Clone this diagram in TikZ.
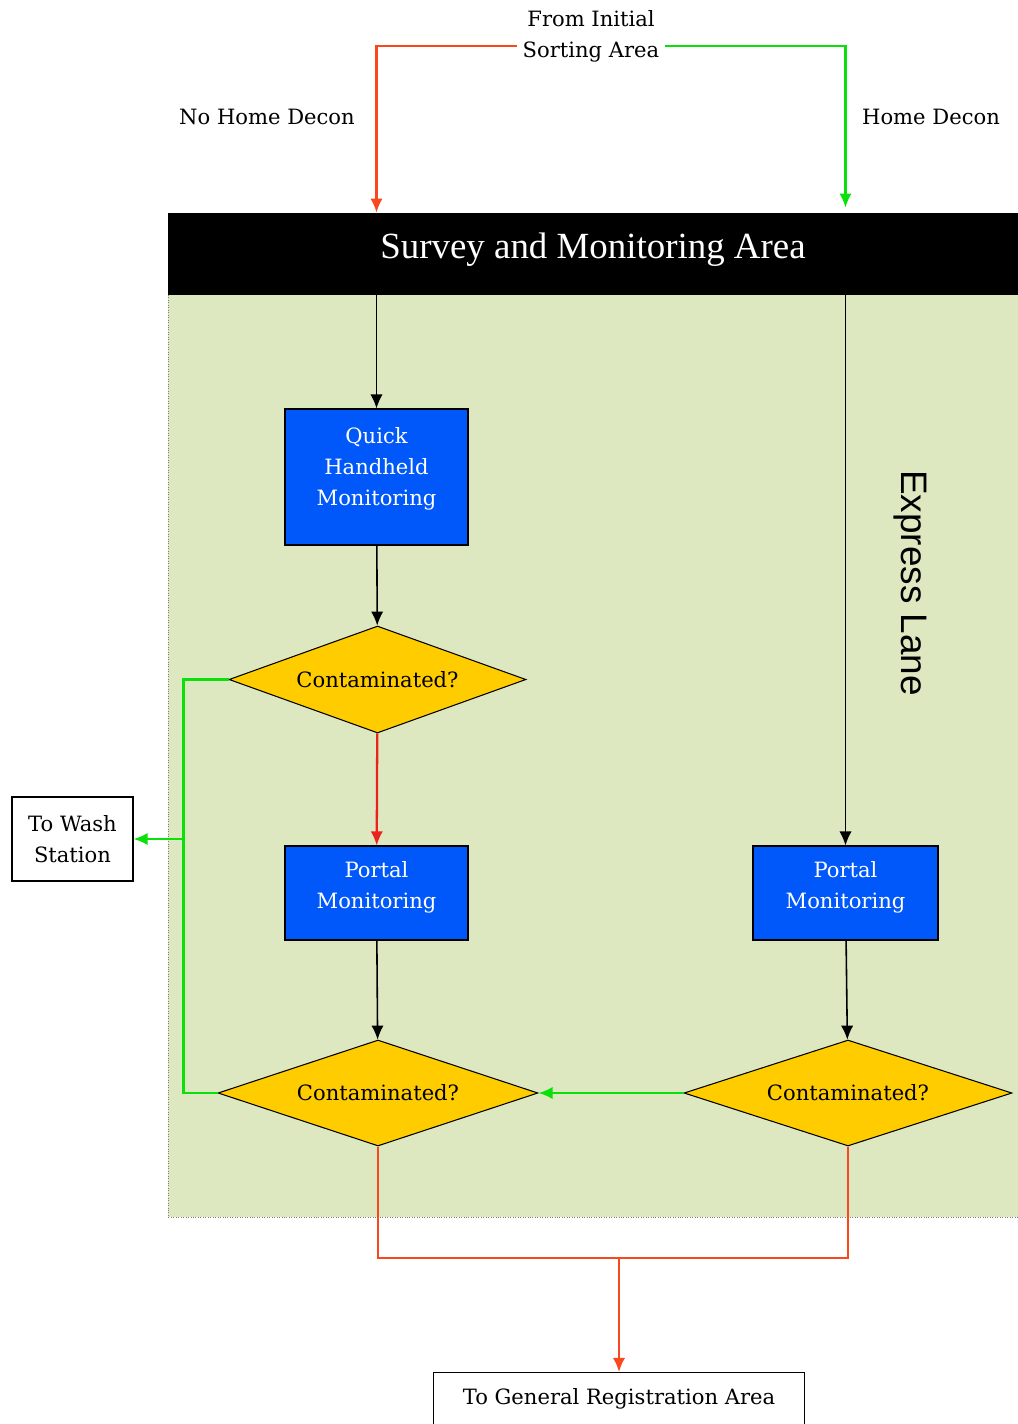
\documentclass[tikz,border=0pt]{standalone}
\usepackage{fontspec}
\setmainfont{DejaVu Serif}
\newfontfamily\titlefont{Liberation Serif}
\newfontfamily\lanefont{Liberation Sans}
\usepackage{tikz}
\usetikzlibrary{shapes.geometric,arrows.meta}
\definecolor{areagreen}{RGB}{221,232,192}
\definecolor{boxblue}{RGB}{0,88,250}
\definecolor{decisionyellow}{RGB}{255,204,0}
\definecolor{flowred}{RGB}{250,72,30}
\definecolor{flowredpure}{RGB}{235,35,30}
\definecolor{flowgreen}{RGB}{10,225,10}
\tikzstyle{arrow} = [-{Latex[length=8pt,width=7pt]}]
\tikzstyle{blackflow} = [line width=0.9pt, black]
\tikzstyle{redflow} = [line width=1.3pt, flowred]
\tikzstyle{greenflow} = [line width=1.3pt, flowgreen]
\tikzstyle{process} = [rectangle, draw=black, line width=0.6pt, fill=boxblue,
	text=white, align=center, minimum width=3.66cm]
\tikzstyle{decision} = [diamond, draw=black, line width=0.6pt, fill=decisionyellow,
	aspect=2.8, inner sep=1pt]
\tikzstyle{exitbox} = [rectangle, draw=black, line width=0.6pt, fill=white, align=center]

\begin{document}
\begin{tikzpicture}[x=0.02cm, y=-0.02cm, every node/.style={font=\fontsize{12}{17.5}\selectfont}]
			\useasboundingbox (0,0) rectangle (1018,1424);
			
			% survey area
			\fill[areagreen] (168,295) rectangle (1018,1217);
			\draw[densely dotted, gray] (168,295) -- (168,1217) -- (1018,1217);
			\node[fill=black, text=white, minimum width=17cm, minimum height=1.64cm, inner sep=0pt,
				text depth=9pt, font=\titlefont\fontsize{21}{25}\selectfont] (band) at (593,254) {Survey and Monitoring Area};
			\node[rotate=-90, font=\lanefont\fontsize{21}{25}\selectfont] (lane) at (910,583) {Express Lane};
			
			% labels
			\node[align=center] (src) at (591,36) {From Initial\\Sorting Area};
			\node (nohome) at (267,117) {No Home Decon};
			\node (home) at (931,117) {Home Decon};
			
			% steps
			\node[process, minimum height=2.72cm, text depth=12pt] (quick) at (376.5,477) {Quick\\Handheld\\Monitoring};
			\node[decision, minimum width=5.94cm, minimum height=2.14cm] (cont1) at (377.5,679.5) {Contaminated?};
			\node[process, minimum height=1.88cm, text depth=9pt] (portalL) at (376.5,893) {Portal\\Monitoring};
			\node[decision, minimum width=6.4cm, minimum height=2.12cm] (cont2) at (378,1093) {Contaminated?};
			\node[process, minimum width=3.7cm, minimum height=1.88cm, text depth=9pt] (portalR) at (845.5,893) {Portal\\Monitoring};
			\node[decision, minimum width=6.56cm, minimum height=2.12cm] (cont3) at (848,1093) {Contaminated?};
			\node[exitbox, minimum width=2.42cm, minimum height=1.68cm] (wash) at (72.5,839) {To Wash\\Station};
			\node[exitbox, anchor=north, minimum width=7.44cm, text height=14.8pt, text depth=20pt]
				(general) at (619,1372) {To General Registration Area};
			
			% connectors
			\draw[redflow, arrow] ([yshift=-0.2cm]src.west) -| (band.north -| quick.north);
			\draw[greenflow, arrow] ([yshift=-0.2cm]src.east) -| ([yshift=0.1cm]band.north -| portalR.north);
			\draw[blackflow, arrow] (band.south -| quick.north) -- (quick.north);
			\draw[blackflow, arrow] (quick) -- (cont1);
			\draw[line width=1.3pt, flowredpure, arrow] (cont1) -- (portalL);
			\draw[blackflow, arrow] (portalL) -- (cont2);
			\draw[blackflow, arrow] (band.south -| portalR.north) -- (portalR.north);
			\draw[blackflow, arrow] (portalR) -- (cont3);
			\draw[greenflow, arrow] (cont3.west) -- (cont2.east);
			\draw[greenflow] (cont1.west) -- ++(-45,0) coordinate (split) |- (cont2.west);
			\draw[greenflow, arrow] (split |- wash.east) -- (wash.east);
			\coordinate (merge) at (general.north |- 0,1258);
			\draw[redflow] (cont2.south) |- (merge) -| (cont3.south);
			\draw[redflow, arrow] (merge) -- (general.north);
			
\end{tikzpicture}
\end{document}
